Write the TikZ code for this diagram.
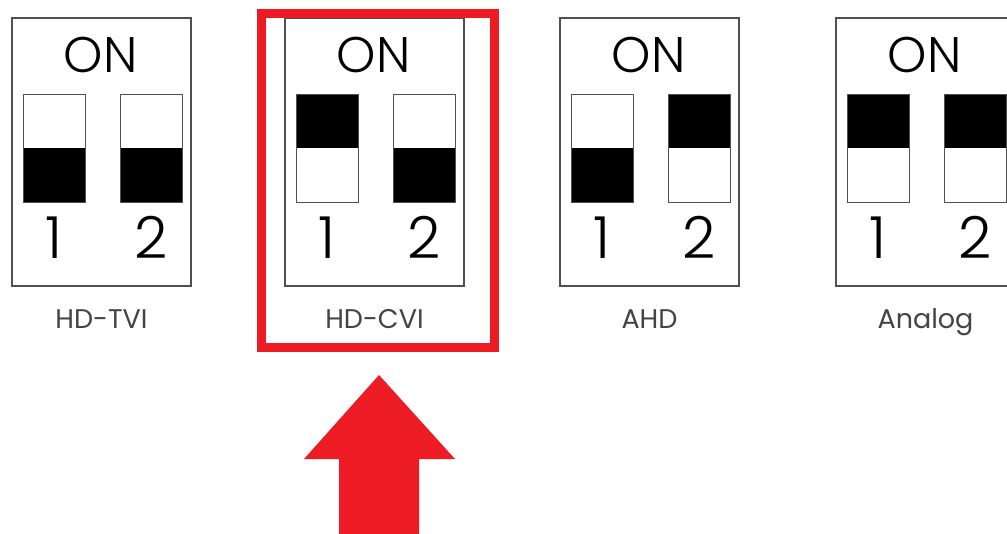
\documentclass[tikz,border=0pt]{standalone}
\usepackage{fontspec}
\setmainfont{Poppins}[UprightFont=* Light]
\newfontfamily\labfont{Poppins}
\usetikzlibrary{calc}
\definecolor{selred}{HTML}{ED1C24}
\definecolor{frame}{HTML}{505050}
\definecolor{labgray}{HTML}{444444}
\begin{document}
\begin{tikzpicture}[x=1pt,y=-1pt,
  panel/.style={draw=frame, line width=1.3pt, minimum width=179pt, minimum height=268pt, inner sep=0pt, outer sep=0pt, anchor=north west},
  swbox/.style={draw=frame, line width=1pt},
  ontext/.style={anchor=base, inner sep=0pt, font=\fontsize{50}{50}\selectfont},
  numtext/.style={anchor=base, inner sep=0pt, font=\fontsize{58}{58}\selectfont},
  labtext/.style={anchor=base, inner sep=0pt, text=labgray, font=\labfont\fontsize{27}{27}\selectfont},
  selbox/.style={draw=selred, line width=9pt, minimum width=233.5pt, minimum height=334.5pt, inner sep=0pt, outer sep=0pt, anchor=north west},
  bigarrow/.style={fill=selred}
]
\useasboundingbox (0,0) rectangle (1007,533);
\clip (0,0) rectangle (1007,533);
\fill[white] (0,0) rectangle (1007,533);

% #1 left x, #2 name, #3 label, #4 switch1 top black (1/0), #5 switch2 top black (1/0)
\newcommand\dipPanel[5]{%
  \node[panel] (#2) at (#1,18) {};
  \node[ontext] (#2on) at ($(#2.north)+(-1,54)$) {ON};
  \foreach \k/\dx/\st in {1/11/#4,2/108/#5}{%
    \pgfmathsetmacro\xa{#1+\dx}%
    \pgfmathsetmacro\xb{#1+\dx+62}%
    \ifnum\st=1
      \fill (\xa,94) rectangle (\xb,148);
    \else
      \fill (\xa,148) rectangle (\xb,202);
    \fi
    \draw[swbox] (\xa,94) rectangle (\xb,202);
    \node[numtext] (#2n\k) at ({(\xa+\xb)/2},258) {\k};
  }
  \node[labtext] (#2lab) at ($(#2.south)+(0,42)$) {#3};
}

\dipPanel{12}{tvi}{HD-TVI}{0}{0}
\dipPanel{285}{cvi}{HD-CVI}{1}{0}
\dipPanel{560}{ahd}{AHD}{0}{1}
\dipPanel{836}{analog}{Analog}{1}{1}

\node[selbox] (sel) at (261,13) {};

\fill[bigarrow] (379,375) -- (455,459) -- (419,459) -- (419,540) -- (339,540) -- (339,459) -- (304,459) -- cycle;
\end{tikzpicture}
\end{document}
